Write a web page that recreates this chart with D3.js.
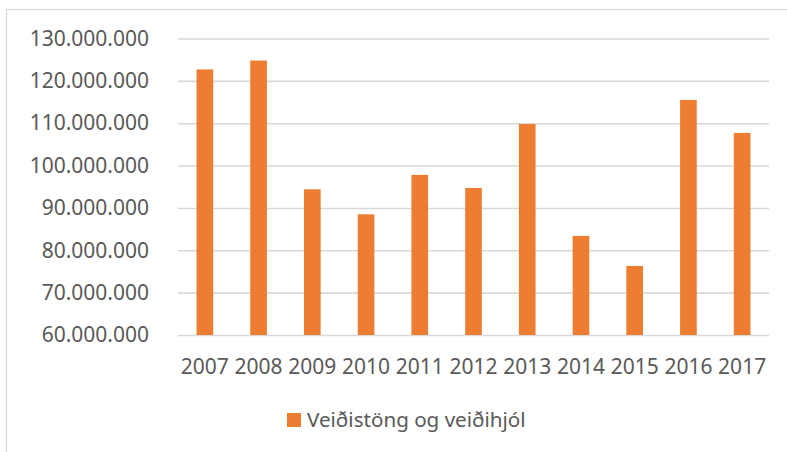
<!DOCTYPE html>
<html>
<head>
<meta charset="utf-8">
<script src="https://cdn.jsdelivr.net/npm/d3@7"></script>
<style>
  body { margin: 0; background: #fff; }
  svg { display: block; }
  text { font-family: "Noto Sans", sans-serif; fill: #595959; }
</style>
</head>
<body>
<svg id="chart" width="787" height="452"></svg>
<script>
// years on the x axis
var years = ['2007', '2008', '2009', '2010', '2011', '2012', '2013', '2014', '2015', '2016', '2017'];
// imports, ISK
var values = [122700000, 124800000, 94400000, 88500000, 97800000, 94700000,
              109800000, 83400000, 76300000, 115500000, 107700000];
var yTicks = [60000000, 70000000, 80000000, 90000000, 100000000, 110000000, 120000000, 130000000];
var seriesName = 'Veiðistöng og veiðihjól';

var svg = d3.select('#chart');
var orange = '#ed7d31';
var grid = '#d9d9d9';

// chart frame (only top and left edges are visible)
svg.append('rect')
    .attr('x', 6.5).attr('y', 9.5)
    .attr('width', 900).attr('height', 600)
    .attr('fill', 'none')
    .attr('stroke', grid)
    .attr('stroke-width', 1.2);

var plot = {left: 178, right: 769, top: 38.5, bottom: 335};

var x = d3.scaleBand()
    .domain(years)
    .range([plot.left, plot.right])
    .paddingInner(0.69)
    .paddingOuter(0.345);

var y = d3.scaleLinear()
    .domain([60000000, 130000000])
    .range([plot.bottom, plot.top]);

// format with dots as thousands separator
var fmt = function(d) { return d3.format(',')(d).replace(/,/g, '.'); };

// gridlines + y labels
var yAxis = d3.axisLeft(y)
    .tickValues(yTicks)
    .tickSize(plot.left - plot.right)
    .tickPadding(29)
    .tickFormat(fmt);

var ga = svg.append('g')
    .attr('transform', 'translate(' + plot.left + ',0)')
    .call(yAxis);
ga.select('.domain').remove();
ga.selectAll('.tick line')
    .attr('stroke', grid)
    .attr('stroke-width', 1.6);
ga.selectAll('.tick text')
    .style('font-size', '21px')
    .attr('fill', '#595959');

// bars
svg.append('g')
  .selectAll('rect')
  .data(values)
  .enter().append('rect')
    .attr('x', function(d, i) { return x(years[i]); })
    .attr('y', function(d) { return y(d); })
    .attr('width', x.bandwidth())
    .attr('height', function(d) { return plot.bottom - y(d); })
    .attr('fill', orange);

// x labels
var xAxis = d3.axisBottom(x).tickSize(0).tickPadding(24);
var gx = svg.append('g')
    .attr('transform', 'translate(0,' + plot.bottom + ')')
    .call(xAxis);
gx.select('.domain').remove();
gx.selectAll('.tick text')
    .style('font-size', '21px')
    .attr('fill', '#595959');

// legend
var legend = svg.append('g').attr('transform', 'translate(287,413)');
legend.append('rect')
    .attr('width', 14).attr('height', 14)
    .attr('fill', orange);
legend.append('text')
    .attr('x', 20).attr('y', 14)
    .style('font-size', '20.6px')
    .text(seriesName);
</script>
</body>
</html>
